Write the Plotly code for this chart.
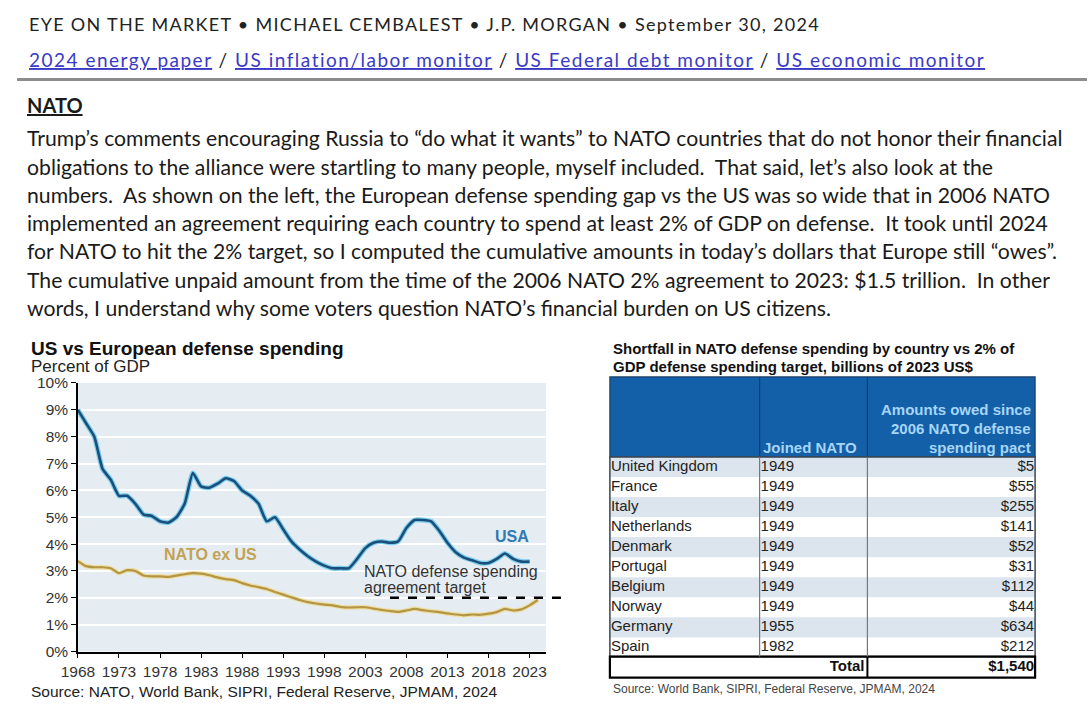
import plotly.graph_objects as go

# ---- chart data (percent of GDP) ----
usa_years = list(range(1968, 2024))
usa = [9.0, 8.5, 8.0, 6.8, 6.4, 5.8, 5.8, 5.5, 5.1, 5.05,
       4.85, 4.8, 5.0, 5.5, 6.65, 6.15, 6.1, 6.25, 6.45, 6.35,
       6.0, 5.8, 5.5, 4.85, 5.0, 4.55, 4.1, 3.8, 3.55, 3.35,
       3.2, 3.1, 3.1, 3.1, 3.45, 3.85, 4.05, 4.1, 4.05, 4.1,
       4.6, 4.9, 4.9, 4.85, 4.5, 4.05, 3.7, 3.5, 3.4, 3.3,
       3.3, 3.45, 3.65, 3.45, 3.35, 3.35]

nato_years = list(range(1968, 2025))
nato_ex_us = [3.37, 3.18, 3.14, 3.14, 3.1, 2.92, 3.03, 3.0, 2.83, 2.8,
              2.8, 2.78, 2.83, 2.88, 2.92, 2.9, 2.84, 2.76, 2.7, 2.66,
              2.55, 2.46, 2.4, 2.33, 2.22, 2.12, 2.02, 1.92, 1.84, 1.79,
              1.75, 1.72, 1.66, 1.64, 1.65, 1.65, 1.6, 1.55, 1.51, 1.48,
              1.53, 1.59, 1.54, 1.5, 1.47, 1.42, 1.38, 1.35, 1.38, 1.37,
              1.41, 1.47, 1.59, 1.53, 1.57, 1.72, 1.92]

target_start = 2006
target_level = 2.0

# ---- table data ----
countries = ["United Kingdom", "France", "Italy", "Netherlands", "Denmark",
             "Portugal", "Belgium", "Norway", "Germany", "Spain"]
joined = [1949, 1949, 1949, 1949, 1949, 1949, 1949, 1949, 1955, 1982]
owed = [5, 55, 255, 141, 52, 31, 112, 44, 634, 212]
owed_total = 1540
header_joined = "Joined NATO"
header_owed = ["Amounts owed since", "2006 NATO defense", "spending pact"]

FONT = "Liberation Sans"
PAGE_FONT = "Lato"

# the figure fills the page; positions below are given in pixels of the final picture
OX, OY, VW, VH = 16, 8.5, 1072, 695


def px(x):
    return (x - OX) / VW


def py(y):
    return 1 - (y - OY) / VH


# plot area in pixels
left, right, top, bottom = 77, 546, 383, 652
x_lo, x_hi = 1968, 2025
per_year = (right - left) / (x_hi - x_lo)
ext_right = 562  # dashed target line runs a little past the plot

# table frame in pixels
t_left, t_right = 610, 1036
t_head_top, t_head_bot, t_body_bot, t_total_bot = 377, 457, 657, 678
col_edges = [0, 150, 258, t_right - t_left]  # column borders, table units

fig = go.Figure()

# USA with light halo
fig.add_trace(go.Scatter(x=usa_years, y=usa, mode="lines", hoverinfo="skip",
                         line=dict(color="#7CCDEE", width=5, shape="spline", smoothing=0.5)))
fig.add_trace(go.Scatter(x=usa_years, y=usa, mode="lines", name="USA",
                         line=dict(color="#1B4E78", width=2.6, shape="spline", smoothing=0.5)))
# NATO ex US with light halo
fig.add_trace(go.Scatter(x=nato_years, y=nato_ex_us, mode="lines", hoverinfo="skip",
                         line=dict(color="#EEDDA0", width=4.5, shape="spline", smoothing=0.5)))
fig.add_trace(go.Scatter(x=nato_years, y=nato_ex_us, mode="lines", name="NATO ex US",
                         line=dict(color="#B39645", width=2.2, shape="spline", smoothing=0.5)))

# 2% target on an overlay axis that extends past the plot edge
x2_hi = x_lo + (ext_right - left) / per_year
fig.add_trace(go.Scatter(x=[target_start, x2_hi], y=[target_level, target_level],
                         mode="lines", xaxis="x2", yaxis="y2", hoverinfo="skip",
                         line=dict(color="black", width=2.5, dash="dash")))

# ---- table drawn on its own hidden axes: one unit per row ----
rows = list(range(len(countries)))
total_row = len(countries)
fig.add_trace(go.Bar(y=rows[0::2], x=[col_edges[-1]] * len(rows[0::2]), orientation="h",
                     width=1, marker=dict(color="#DCE5EE", line=dict(width=0)),
                     xaxis="x3", yaxis="y3", hoverinfo="skip"))
cell_font = dict(family=FONT, size=15, color="#222222")
fig.add_trace(go.Scatter(x=[col_edges[0] + 1] * len(rows), y=rows, text=countries,
                         mode="text", textposition="middle right", textfont=cell_font,
                         xaxis="x3", yaxis="y3", hoverinfo="skip"))
fig.add_trace(go.Scatter(x=[col_edges[1] + 1] * len(rows), y=rows,
                         text=[str(j) for j in joined], mode="text",
                         textposition="middle right", textfont=cell_font,
                         xaxis="x3", yaxis="y3", hoverinfo="skip"))
fig.add_trace(go.Scatter(x=[col_edges[3] - 1] * len(rows), y=rows,
                         text=[f"${v:,}" for v in owed], mode="text",
                         textposition="middle left", textfont=cell_font,
                         xaxis="x3", yaxis="y3", hoverinfo="skip"))
fig.add_trace(go.Scatter(x=[col_edges[2] - 3, col_edges[3] - 1], y=[total_row, total_row],
                         text=["<b>Total</b>", f"<b>${owed_total:,}</b>"], mode="text",
                         textposition="middle left",
                         textfont=dict(family=FONT, size=15, color="#111111"),
                         xaxis="x3", yaxis="y3", hoverinfo="skip"))

axis_font = dict(family=FONT, size=15.5, color="#333333")
fig.update_layout(
    autosize=True,
    margin=dict(l=0, r=0, t=0, b=0),
    paper_bgcolor="white", plot_bgcolor="rgba(0,0,0,0)",
    showlegend=False,
    xaxis=dict(domain=[px(left), px(right)], range=[x_lo, x_hi], tick0=1968, dtick=5,
               ticks="outside", ticklen=5, tickcolor="black", showline=True,
               linecolor="black", linewidth=1.5, showgrid=False, zeroline=False,
               tickfont=axis_font, anchor="y"),
    yaxis=dict(domain=[py(bottom), py(top)], range=[0, 10], dtick=1, ticksuffix="%",
               ticks="outside", ticklen=5, tickcolor="black", showline=True,
               linecolor="black", linewidth=1.5, showgrid=True, gridcolor="white",
               gridwidth=2, zeroline=False, tickfont=axis_font, anchor="x"),
    xaxis2=dict(domain=[px(left), px(ext_right)], range=[x_lo, x2_hi], visible=False,
                anchor="y2"),
    yaxis2=dict(domain=[py(bottom), py(top)], range=[0, 10], visible=False, anchor="x2"),
    xaxis3=dict(domain=[px(t_left), px(t_right)], range=[0, col_edges[-1]], visible=False,
                anchor="y3"),
    yaxis3=dict(domain=[py(t_total_bot), py(t_head_bot)], range=[total_row + 0.5, -0.5],
                visible=False, anchor="x3"),
)

shapes = [
    # plot background
    dict(type="rect", xref="x domain", yref="y domain", x0=0, x1=1, y0=0, y1=1,
         fillcolor="#E5EDF3", line=dict(width=0), layer="below"),
    # page rule under the links
    dict(type="line", xref="paper", yref="paper", x0=0, x1=1, y0=py(79), y1=py(79),
         line=dict(color="#8C8C8C", width=3)),
    # table header block
    dict(type="rect", xref="paper", yref="paper", x0=px(t_left), x1=px(t_right),
         y0=py(t_head_bot), y1=py(t_head_top), fillcolor="#135FA8",
         line=dict(color="#1B3F66", width=1.2)),
    # body outline
    dict(type="rect", xref="paper", yref="paper", x0=px(t_left), x1=px(t_right),
         y0=py(t_body_bot), y1=py(t_head_bot), line=dict(color="#3A4756", width=1.5)),
    # total row box
    dict(type="rect", xref="paper", yref="paper", x0=px(t_left), x1=px(t_right),
         y0=py(t_total_bot), y1=py(t_body_bot), line=dict(color="black", width=2.2)),
    dict(type="line", xref="paper", yref="paper", x0=px(t_left + col_edges[2]),
         x1=px(t_left + col_edges[2]), y0=py(t_total_bot), y1=py(t_body_bot),
         line=dict(color="black", width=2)),
]
for edge in col_edges[1:3]:
    shapes.append(dict(type="line", xref="paper", yref="paper", x0=px(t_left + edge),
                       x1=px(t_left + edge), y0=py(t_head_bot), y1=py(t_head_top),
                       line=dict(color="#0D3D6E", width=1.2)))
    shapes.append(dict(type="line", xref="paper", yref="paper", x0=px(t_left + edge),
                       x1=px(t_left + edge), y0=py(t_body_bot), y1=py(t_head_bot),
                       line=dict(color="#707880", width=1.2)))
fig.update_layout(shapes=shapes)

link = '<span style="color:#3A3AC4"><u>{}</u></span>'
para = [
    "Trump’s comments encouraging Russia to “do what it wants” to NATO countries that do not honor their financial",
    "obligations to the alliance were startling to many people, myself included.  That said, let’s also look at the",
    "numbers.  As shown on the left, the European defense spending gap vs the US was so wide that in 2006 NATO",
    "implemented an agreement requiring each country to spend at least 2% of GDP on defense.  It took until 2024",
    "for NATO to hit the 2% target, so I computed the cumulative amounts in today’s dollars that Europe still “owes”.",
    "The cumulative unpaid amount from the time of the 2006 NATO 2% agreement to 2023: $1.5 trillion.  In other",
    "words, I understand why some voters question NATO’s financial burden on US citizens.",
]

ann = []


def text(x, y, s, size, color="#1A1A1A", family=PAGE_FONT, bold=False, anchor="left"):
    ann.append(dict(xref="paper", yref="paper", x=px(x), y=py(y), text=s,
                    showarrow=False, xanchor=anchor, yanchor="middle",
                    font=dict(family=family, size=size, color=color,
                              weight="bold" if bold else "normal")))


text(26, 24, '<span style="letter-spacing:1.3px">EYE ON THE MARKET • MICHAEL CEMBALEST • '
     'J.P. MORGAN • September 30, 2024</span>', 18, color="#222222")
text(26, 59, '<span style="letter-spacing:1.5px">' + " / ".join(link.format(s) for s in [
    "2024 energy paper", "US inflation/labor monitor", "US Federal debt monitor",
    "US economic monitor"]) + "</span>", 19, color="#222222")
text(24, 105, "<u>NATO</u>", 20, bold=True)
for i, line in enumerate(para):
    text(24, 138 + i * 28.3, line, 21.2)

# chart titles and source
text(28, 348, "US vs European defense spending", 19, color="#111111", family=FONT, bold=True)
text(28, 367, "Percent of GDP", 17, color="#222222", family=FONT)
text(28, 692, "Source: NATO, World Bank, SIPRI, Federal Reserve, JPMAM, 2024", 15.5,
     color="#222222", family=FONT)
text(611, 348, "Shortfall in NATO defense spending by country vs 2% of", 15,
     color="#111111", family=FONT, bold=True)
text(611, 367, "GDP defense spending target, billions of 2023 US$", 15,
     color="#111111", family=FONT, bold=True)
text(611, 689, "Source: World Bank, SIPRI, Federal Reserve, JPMAM, 2024", 12,
     color="#444444", family=FONT)

# table header text
head_font = dict(family=FONT, size=15, color="#A6D6F7", weight="bold")
ann.append(dict(xref="paper", yref="paper", x=px(t_left + col_edges[1] + 1), y=py(448),
                text=header_joined, showarrow=False, xanchor="left", yanchor="middle",
                font=head_font))
for i, line in enumerate(header_owed):
    ann.append(dict(xref="paper", yref="paper", x=px(t_right - 2), y=py(410 + i * 19),
                    text=line, showarrow=False, xanchor="right", yanchor="middle",
                    font=head_font))

# series labels placed in data coordinates
ann.append(dict(x=2020.8, y=4.3, xref="x", yref="y", text="<b>USA</b>", showarrow=False,
                font=dict(family=FONT, size=16, color="#2E7AB3")))
ann.append(dict(x=1984.15, y=3.6, xref="x", yref="y", text="<b>NATO ex US</b>", showarrow=False,
                font=dict(family=FONT, size=16, color="#C2A253")))
ann.append(dict(x=2002.6, y=2.97, xref="x", yref="y", text="NATO defense spending",
                showarrow=False, xanchor="left", font=dict(family=FONT, size=16, color="#333333")))
ann.append(dict(x=2002.6, y=2.38, xref="x", yref="y", text="agreement target",
                showarrow=False, xanchor="left", font=dict(family=FONT, size=16, color="#333333")))

fig.update_layout(annotations=ann)

fig.write_html("out.html", config={"displayModeBar": False, "responsive": True},
               default_width="100vw", default_height="100vh",
               post_script="document.body.style.margin='0';document.body.style.overflow='hidden';"
                           "window.dispatchEvent(new Event('resize'));")
